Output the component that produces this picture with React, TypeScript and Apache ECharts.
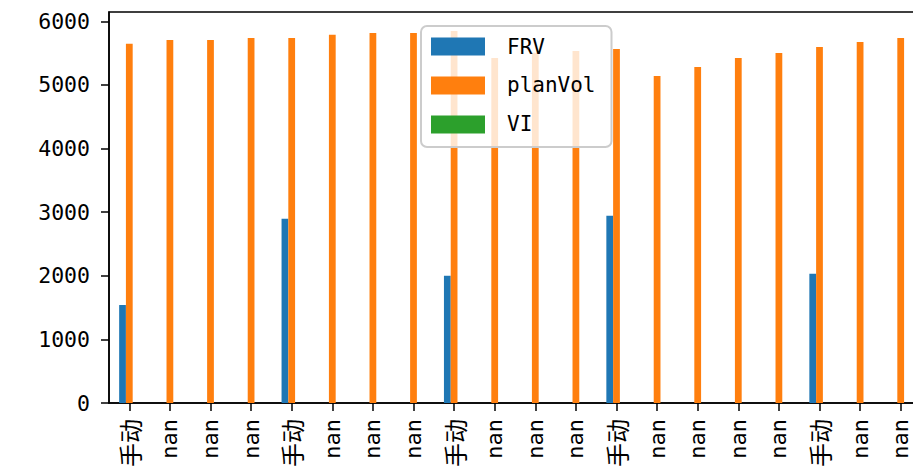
import React, { useEffect, useRef } from "react";
import * as echarts from "echarts";

const categories = ["手动", "nan", "nan", "nan", "手动", "nan", "nan", "nan", "手动", "nan", "nan", "nan", "手动", "nan", "nan", "nan", "nan", "手动", "nan", "nan"];
const frv = [1540, null, null, null, 2895, null, null, null, 2000, null, null, null, 2942, null, null, null, null, 2031, null, null];
const planVol = [5648, 5706, 5706, 5737, 5737, 5789, 5816, 5816, 5847, 5423, 5507, 5533, 5565, 5141, 5282, 5423, 5502, 5596, 5675, 5737];
const vi = [null, null, null, null, null, null, null, null, null, null, null, null, null, null, null, null, null, null, null, null];
const yTicks = [0, 1000, 2000, 3000, 4000, 5000, 6000];
const yMax = 6146;

const FONT = "'DejaVu Sans Mono', 'Noto Sans CJK SC', monospace";

export default function App() {
  const ref = useRef<HTMLDivElement>(null);
  useEffect(() => {
    if (!ref.current) return;
    const chart = echarts.init(ref.current, undefined, { renderer: "svg" });
    const barCommon = { type: "bar", barWidth: "16.67%", barGap: "0%", barCategoryGap: "50%" };
    chart.setOption({
      animation: false,
      backgroundColor: "#ffffff",
      textStyle: { fontFamily: FONT },
      grid: {
        left: 109,
        top: 12,
        width: 812,
        height: 391,
        outerBoundsMode: "none",
        containLabel: false,
        show: true,
        borderColor: "#000000",
        borderWidth: 1.5,
        backgroundColor: "transparent",
      },
      legend: {
        left: 421,
        top: 26,
        orient: "vertical",
        icon: "rect",
        itemWidth: 54,
        itemHeight: 18,
        itemGap: 18,
        padding: [10, 16, 12, 10],
        backgroundColor: "rgba(255,255,255,0.8)",
        borderColor: "#cccccc",
        borderWidth: 2,
        borderRadius: 6,
        textStyle: {
          fontFamily: FONT,
          fontSize: 21,
          color: "#000000",
          lineHeight: 18,
          padding: [0, 0, 0, 17],
        },
        data: ["FRV", "planVol", "VI"],
      },
      xAxis: {
        type: "category",
        data: categories,
        boundaryGap: true,
        axisLine: { show: true, lineStyle: { color: "#000000", width: 1.5 } },
        axisTick: { show: true, alignWithLabel: true, length: 8, lineStyle: { color: "#000000", width: 1.5 } },
        axisLabel: {
          interval: 0,
          rotate: 90,
          margin: 16,
          fontFamily: FONT,
          fontSize: 22,
          color: "#000000",
          formatter: (v: string) => (v === "nan" ? v : `{cjk|${v}}`),
          rich: {
            cjk: { fontFamily: "'Noto Sans CJK SC'", fontSize: 24, color: "#000000" },
          },
        },
        splitLine: { show: false },
      },
      yAxis: {
        type: "value",
        min: 0,
        max: yMax,
        interval: 1000,
        axisLine: { show: true, lineStyle: { color: "#000000", width: 1.5 } },
        axisTick: { show: true, length: 8, customValues: yTicks, lineStyle: { color: "#000000", width: 1.5 } },
        axisLabel: {
          customValues: yTicks,
          margin: 19,
          fontFamily: FONT,
          fontSize: 21.5,
          color: "#000000",
          formatter: (v: number) => String(v),
        },
        splitLine: { show: false },
      },
      series: [
        { ...barCommon, name: "FRV", data: frv, itemStyle: { color: "#1f77b4" } },
        { ...barCommon, name: "planVol", data: planVol, itemStyle: { color: "#ff7f0e" } },
        { ...barCommon, name: "VI", data: vi, itemStyle: { color: "#2ca02c" } },
      ],
    });
    return () => chart.dispose();
  }, []);
  return (
    <div
      ref={ref}
      style={{ position: "absolute", left: 0, top: 0, width: 913, height: 473, background: "#ffffff" }}
    />
  );
}
